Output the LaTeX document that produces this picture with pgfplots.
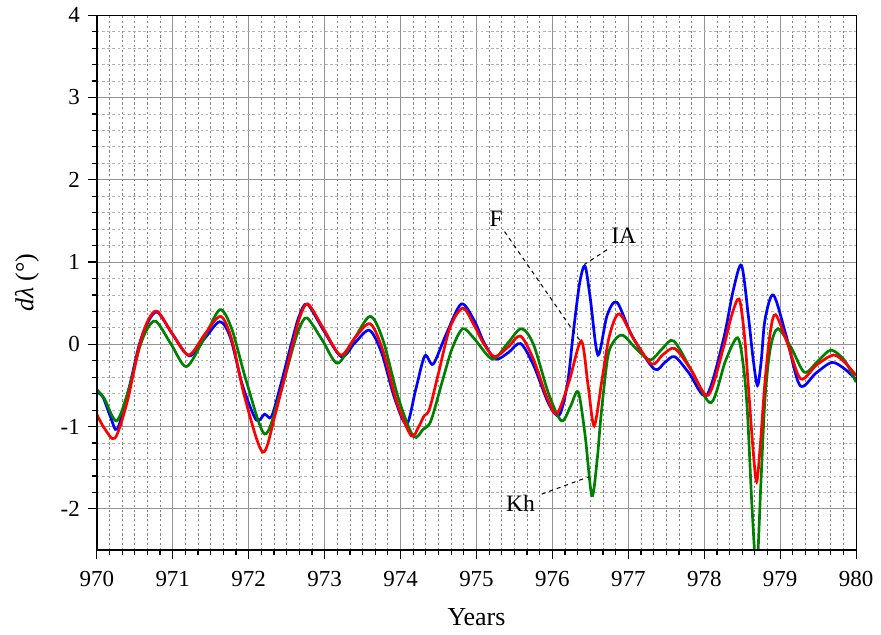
\documentclass[border=0pt]{standalone}
\usepackage{fontspec}
\setmainfont{Liberation Serif}
\usepackage{pgfplots}
\pgfplotsset{compat=1.18}
\begin{document}
\fontsize{11.5}{13.8}\selectfont
\begin{tikzpicture}
\begin{axis}[
 scale only axis, width=380.5pt, height=268pt,
 xmin=970, xmax=980, ymin=-2.5, ymax=4,
 xtick={970,971,...,980}, ytick={-2,-1,...,4},
 minor x tick num=5, minor y tick num=4,
 xtick pos=bottom, ytick pos=left, tick align=outside,
 major tick length=4.5pt, minor tick length=2.5pt,
 every tick/.style={black, line width=0.6pt},
 grid=both,
 major grid style={gray!85, line width=0.55pt},
 minor x grid style={black!48, line width=0.4pt, dash pattern=on 1.1pt off 1.3pt},
 minor y grid style={black!30, line width=0.4pt, dash pattern=on 1.3pt off 1.3pt},
 axis line style={black, line width=0.5pt},
 /pgf/number format/1000 sep={},
 /pgf/number format/assume math mode=true,
 tick label style={font=\fontsize{11.5}{13.8}\selectfont},
 label style={font=\fontsize{13}{15.6}\selectfont},
 xlabel={Years}, ylabel={\textit{dλ} (°)},
 x label style={at={(axis description cs:0.5,0)}, anchor=north, yshift=-25.5pt},
 y label style={at={(axis description cs:-0.092,0.5)}, anchor=center},
 xticklabel shift=2pt,
 every axis plot/.append style={line width=1.35pt, smooth},
]
% IA (blue)
\addplot[color={rgb,255:red,0;green,0;blue,255}] coordinates {
(970.00,-0.58) (970.08,-0.64) (970.18,-0.88) (970.27,-1.03) (970.42,-0.55)
(970.56,0.00) (970.68,0.28) (970.80,0.39) (971.00,0.12) (971.22,-0.14)
(971.42,0.07) (971.62,0.275) (971.76,0.08) (971.92,-0.50) (972.10,-0.92)
(972.21,-0.85) (972.30,-0.88) (972.42,-0.50) (972.56,0.00) (972.66,0.33)
(972.77,0.49) (972.98,0.18) (973.22,-0.15) (973.40,0.02) (973.59,0.17)
(973.75,-0.10) (973.92,-0.65) (974.08,-0.97) (974.20,-0.55) (974.32,-0.14)
(974.43,-0.24) (974.60,0.12) (974.80,0.49) (974.97,0.29) (975.10,0.02)
(975.25,-0.18) (975.42,-0.10) (975.58,0.01) (975.75,-0.25) (975.95,-0.72)
(976.09,-0.86) (976.20,-0.47) (976.28,0.18) (976.36,0.75) (976.43,0.95)
(976.50,0.55) (976.60,-0.13) (976.72,0.35) (976.85,0.51) (977.05,0.10)
(977.34,-0.30) (977.48,-0.22) (977.61,-0.15) (977.80,-0.35) (978.03,-0.62)
(978.25,0.05) (978.38,0.65) (978.49,0.96) (978.58,0.35) (978.64,-0.15)
(978.70,-0.50) (978.75,-0.20) (978.80,0.30) (978.91,0.60) (979.08,0.10)
(979.26,-0.50) (979.47,-0.35) (979.68,-0.22) (979.85,-0.30) (980.00,-0.43)
};
% Kh (green)
\addplot[color={rgb,255:red,0;green,128;blue,0}] coordinates {
(970.00,-0.55) (970.10,-0.66) (970.26,-0.93) (970.42,-0.55) (970.56,-0.05)
(970.66,0.18) (970.78,0.28) (970.98,0.00) (971.18,-0.27) (971.40,0.05)
(971.62,0.42) (971.78,0.18) (971.97,-0.45) (972.21,-1.09) (972.40,-0.65)
(972.58,-0.05) (972.67,0.20) (972.77,0.32) (972.97,0.05) (973.17,-0.23)
(973.38,0.05) (973.60,0.34) (973.77,0.05) (973.97,-0.65) (974.17,-1.12)
(974.30,-1.03) (974.40,-0.93) (974.55,-0.45) (974.68,-0.05) (974.82,0.19)
(974.97,0.07) (975.21,-0.18) (975.40,0.00) (975.59,0.19) (975.75,0.00)
(975.95,-0.60) (976.12,-0.93) (976.24,-0.75) (976.34,-0.58) (976.43,-1.10)
(976.52,-1.84) (976.59,-1.40) (976.64,-0.87) (976.73,-0.15) (976.82,0.05)
(976.93,0.11) (977.10,-0.05) (977.29,-0.19) (977.45,-0.05) (977.60,0.04)
(977.85,-0.35) (978.09,-0.71) (978.28,-0.20) (978.44,0.08) (978.52,-0.30)
(978.57,-0.85) (978.63,-2.00) (978.69,-2.75) (978.745,-1.70) (978.80,-0.66)
(978.87,-0.05) (978.97,0.19) (979.15,-0.05) (979.32,-0.34) (979.50,-0.20)
(979.67,-0.07) (979.85,-0.20) (980.00,-0.46)
};
% F (red)
\addplot[color={rgb,255:red,255;green,0;blue,0}] coordinates {
(970.00,-0.85) (970.10,-1.02) (970.24,-1.14) (970.40,-0.70) (970.56,-0.02)
(970.68,0.30) (970.80,0.40) (971.00,0.12) (971.21,-0.13) (971.42,0.12)
(971.63,0.34) (971.78,0.05) (971.95,-0.65) (972.185,-1.31) (972.35,-0.85)
(972.58,0.00) (972.67,0.32) (972.78,0.49) (972.98,0.20) (973.21,-0.13)
(973.40,0.08) (973.60,0.25) (973.77,-0.08) (973.95,-0.70) (974.14,-1.11)
(974.24,-1.00) (974.31,-0.87) (974.38,-0.79) (974.50,-0.35) (974.65,0.20)
(974.82,0.44) (974.97,0.23) (975.10,0.00) (975.24,-0.15) (975.42,-0.03)
(975.58,0.10) (975.75,-0.18) (975.93,-0.65) (976.06,-0.84) (976.22,-0.45)
(976.38,0.04) (976.47,-0.50) (976.55,-0.99) (976.65,-0.45) (976.75,0.10)
(976.88,0.37) (977.08,0.05) (977.31,-0.24) (977.45,-0.13) (977.61,-0.05)
(977.82,-0.30) (978.05,-0.62) (978.25,-0.05) (978.36,0.35) (978.46,0.55)
(978.53,0.10) (978.58,-0.50) (978.64,-1.25) (978.69,-1.67) (978.74,-1.20)
(978.80,-0.45) (978.87,0.15) (978.94,0.36) (979.10,0.00) (979.27,-0.42)
(979.48,-0.25) (979.70,-0.13) (979.85,-0.22) (980.00,-0.38)
};
\draw[black, line width=0.5pt, dash pattern=on 2pt off 2pt] (axis cs:975.37,1.37) -- (axis cs:976.36,0.05);
\draw[black, line width=0.5pt, dash pattern=on 2pt off 2pt] (axis cs:976.72,1.15) -- (axis cs:976.42,0.97);
\draw[black, line width=0.5pt, dash pattern=on 2pt off 2pt] (axis cs:975.86,-1.82) -- (axis cs:976.48,-1.61);
\node[font=\fontsize{11.8}{14}\selectfont] at (axis cs:975.26,1.53) {F};
\node[font=\fontsize{11.8}{14}\selectfont] at (axis cs:976.94,1.32) {IA};
\node[font=\fontsize{11.8}{14}\selectfont] at (axis cs:975.58,-1.93) {Kh};
\draw[black, line width=1pt] (rel axis cs:0,1) -- (rel axis cs:0,0) -- (rel axis cs:1,0);
\end{axis}
\path ([shift={(-48.5pt,-42.5pt)}]current axis.south west) rectangle ([shift={(11.5pt,7.5pt)}]current axis.north east);
\end{tikzpicture}
\end{document}
